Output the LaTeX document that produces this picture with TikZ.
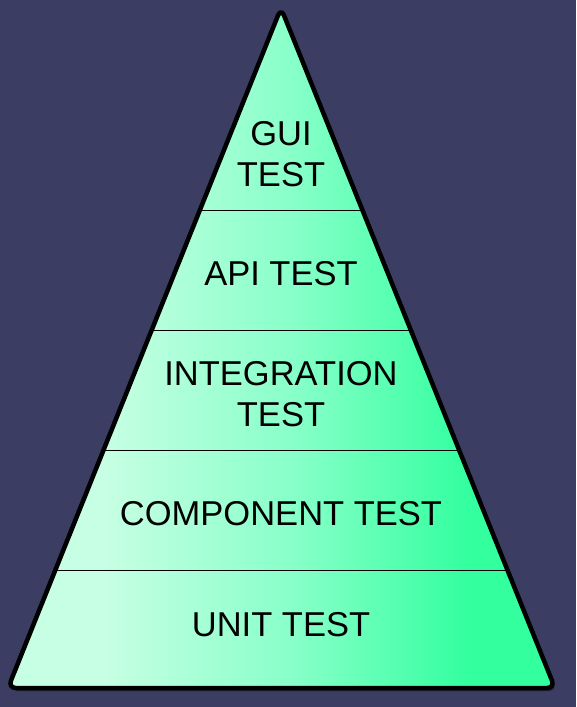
\documentclass[tikz,border=0pt]{standalone}
\usepackage{fontspec}
\setmainfont{Liberation Sans}
\usetikzlibrary{calc}
\definecolor{bg}{HTML}{3B3D62}
\definecolor{gA}{HTML}{C6FFE3}
\definecolor{gB}{HTML}{88FFC9}
\definecolor{gC}{HTML}{33FF9F}
\pgfdeclarehorizontalshading{pyr}{100bp}{color(0bp)=(gA); color(34bp)=(gA); color(51bp)=(gB); color(67bp)=(gC); color(100bp)=(gC)}
\tikzset{
  lbl/.style={font=\fontsize{34.5}{41}\selectfont, align=center, text=black},
  sep/.style={draw=black, line width=1pt},
}
\begin{document}
\begin{tikzpicture}[x=1pt,y=-1pt]
\fill[bg] (0,0) rectangle (576,707);
\useasboundingbox (0,0) rectangle (576,707);
\coordinate (apex) at (281,8);
\coordinate (bl) at (8,688);
\coordinate (br) at (555,688);
% shadow
\fill[black!40!bg, rounded corners=8pt] ($(apex)+(2,3)$) -- ($(br)+(2,3)$) -- ($(bl)+(2,3)$) -- cycle;
\shade[shading=pyr, rounded corners=8pt] (apex) -- (br) -- (bl) -- cycle;
% separators
\foreach \yy/\nm in {210/a,330/b,450/c,570/d}{
  \pgfmathsetmacro{\tt}{(\yy-8)/680}
  \coordinate (L\nm) at ($(apex)!\tt!(bl)$);
  \coordinate (R\nm) at ($(apex)!\tt!(br)$);
}
\foreach \nm in {a,b,c,d}{ \draw[sep] (L\nm) -- (R\nm); }
\draw[black, line width=4.5pt, rounded corners=8pt, line join=round] (apex) -- (br) -- (bl) -- cycle;
\node[lbl] (gui) at (281,154) {GUI\\TEST};
\node[lbl] (api) at (281,274) {API TEST};
\node[lbl] (integ) at (281,394) {INTEGRATION\\TEST};
\node[lbl] (comp) at (281,514) {COMPONENT TEST};
\node[lbl] (unit) at (281,625) {UNIT TEST};
\end{tikzpicture}
\end{document}
